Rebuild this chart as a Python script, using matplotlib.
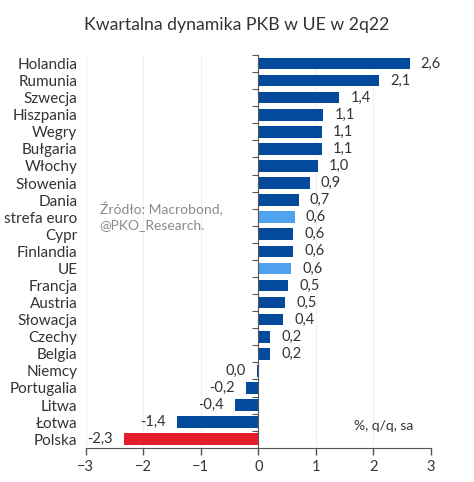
import matplotlib.pyplot as plt
import numpy as np

countries = ["Holandia", "Rumunia", "Szwecja", "Hiszpania", "Wegry", "Bułgaria",
             "Włochy", "Słowenia", "Dania", "strefa euro", "Cypr", "Finlandia",
             "UE", "Francja", "Austria", "Słowacja", "Czechy", "Belgia", "Niemcy",
             "Portugalia", "Litwa", "Łotwa", "Polska"]
gdp_qq = [2.63, 2.10, 1.41, 1.13, 1.10, 1.10, 1.03, 0.89, 0.70, 0.63, 0.61, 0.61,
          0.57, 0.52, 0.47, 0.43, 0.21, 0.21, -0.02, -0.21, -0.40, -1.42, -2.33]
highlight_light = ["strefa euro", "UE"]
highlight_red = ["Polska"]

DARK = "#034A9C"
LIGHT = "#4FA3EE"
RED = "#E31D2B"
TXT = "#333333"

plt.rcParams["font.family"] = ["Lato", "DejaVu Sans"]

colors = []
for c in countries:
    if c in highlight_red:
        colors.append(RED)
    elif c in highlight_light:
        colors.append(LIGHT)
    else:
        colors.append(DARK)

fig = plt.figure(figsize=(4.74, 4.82), dpi=100)
ax = fig.add_axes([0.181, 0.071, 0.728, 0.815])

y = np.arange(len(countries))
ax.barh(y, gdp_qq, height=0.68, color=colors, zorder=3)
ax.set_ylim(len(countries) - 0.5, -0.5)
ax.set_xlim(-3, 3)
ax.set_xticks(range(-3, 4))
ax.set_yticks(y)
ax.set_yticklabels(countries, fontsize=11, color=TXT)
ax.tick_params(axis="y", length=0, pad=6)
ax.tick_params(axis="x", length=5, width=1, color="#555555", labelsize=10.5,
               labelcolor=TXT, pad=4)
ax.grid(axis="x", color="#f0f0f0", linewidth=0.8, zorder=0)
for s in ["left", "right", "top"]:
    ax.spines[s].set_visible(False)
ax.spines["bottom"].set_color("#555555")

# zero line with small ticks between categories
ax2 = ax.twinx()
ax2.set_ylim(ax.get_ylim())
ax2.spines["right"].set_position(("data", 0))
for s in ["left", "top", "bottom"]:
    ax2.spines[s].set_visible(False)
ax2.spines["right"].set_color("#555555")
ax2.set_yticks(np.arange(len(countries) + 1) - 0.5)
ax2.set_yticklabels([])
ax2.tick_params(axis="y", direction="in", length=4, color="#555555")

for yi, v in zip(y, gdp_qq):
    lab = f"{v:.1f}".replace(".", ",")
    if lab == "-0,0":
        lab = "0,0"
    if v >= 0:
        ax.annotate(lab, (v, yi), xytext=(8, 0), textcoords="offset points",
                    ha="left", va="center", fontsize=10.5, color=TXT)
    else:
        ax.annotate(lab, (v, yi), xytext=(-8, 0), textcoords="offset points",
                    ha="right", va="center", fontsize=10.5, color=TXT)

ax.text(0.04, 0.59, "Źródło: Macrobond,\n@PKO_Research.", transform=ax.transAxes,
        fontsize=10, color="#8a8a8a", va="center", linespacing=1.3)
ax.text(0.948, 0.055, "%, q/q, sa", transform=ax.transAxes, fontsize=10,
        color=TXT, ha="right", va="center")

fig.text(0.5, 0.948, "Kwartalna dynamika PKB w UE w 2q22", ha="center",
         va="center", fontsize=12.7, color=TXT)

fig.savefig("out.png", dpi=100, facecolor="white")
